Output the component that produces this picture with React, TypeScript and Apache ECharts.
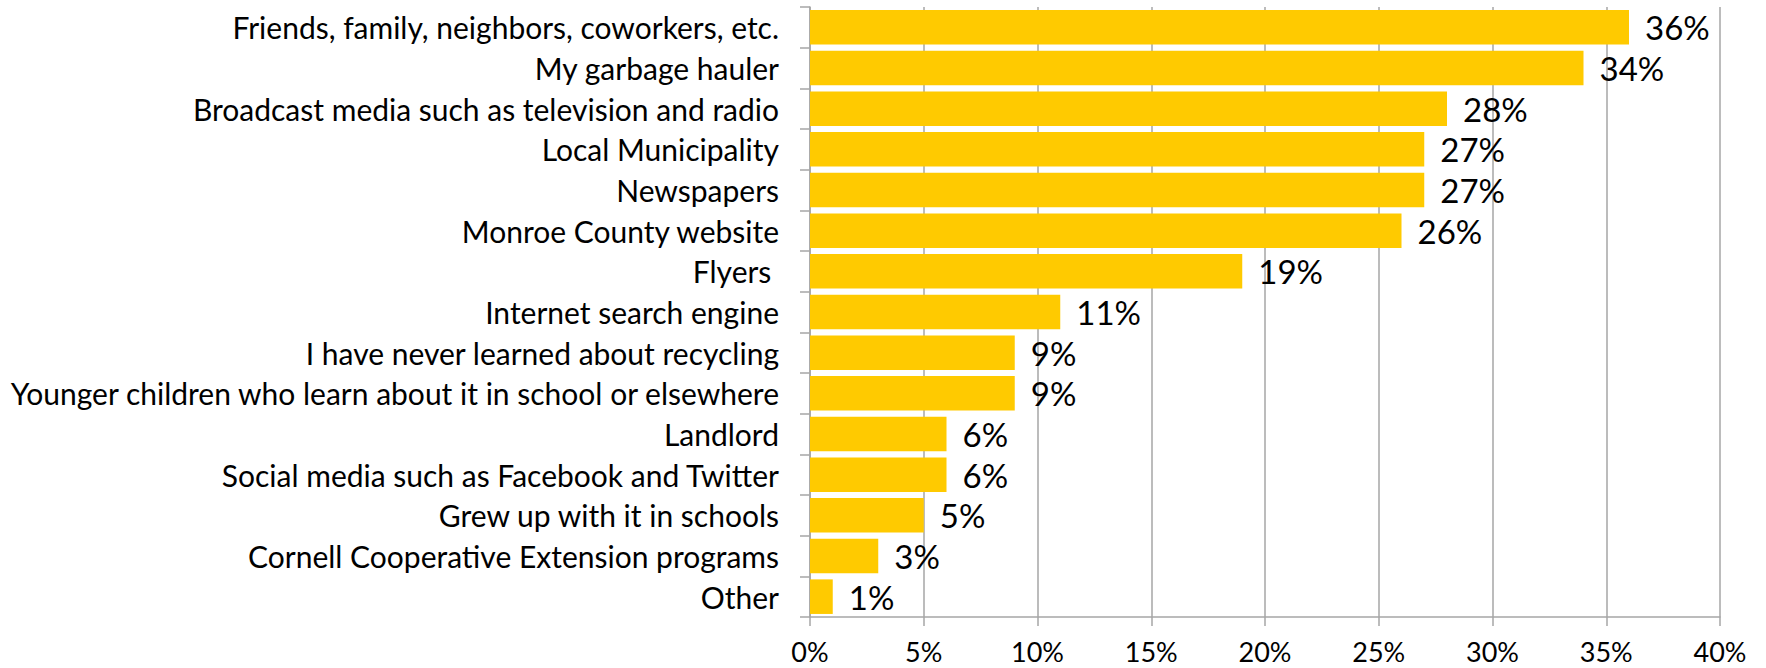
import React, { useEffect, useRef } from "react";
import * as echarts from "echarts";

const categories = [
  "Friends, family, neighbors, coworkers, etc.",
  "My garbage hauler",
  "Broadcast media such as television and radio",
  "Local Municipality",
  "Newspapers",
  "Monroe County website",
  "Flyers ",
  "Internet search engine",
  "I have never learned about recycling",
  "Younger children who learn about it in school or elsewhere",
  "Landlord",
  "Social media such as Facebook and Twitter",
  "Grew up with it in schools",
  "Cornell Cooperative Extension programs",
  "Other",
];

const values = [36, 34, 28, 27, 27, 26, 19, 11, 9, 9, 6, 6, 5, 3, 1];

const FONT = "Lato";

export default function App() {
  const ref = useRef<HTMLDivElement>(null);
  useEffect(() => {
    if (!ref.current) return;
    const chart = echarts.init(ref.current, null, { renderer: "svg" });
    chart.setOption({
      animation: false,
      backgroundColor: "#ffffff",
      grid: { left: 810, right: 46, top: 7, bottom: 51, containLabel: false },
      xAxis: {
        type: "value",
        min: 0,
        max: 40,
        interval: 5,
        axisLine: { show: true, lineStyle: { color: "#a6a6a6", width: 1.5 } },
        axisTick: { show: true, length: 9, lineStyle: { color: "#a6a6a6", width: 1.5 } },
        splitLine: { show: true, lineStyle: { color: "#a6a6a6", width: 1.5 } },
        axisLabel: {
          formatter: "{value}%",
          color: "#000",
          fontFamily: FONT,
          fontSize: 27,
          lineHeight: 28,
          margin: 20,
        },
      },
      yAxis: {
        type: "category",
        inverse: true,
        data: categories,
        axisLine: { show: true, lineStyle: { color: "#a6a6a6", width: 1.5 } },
        axisTick: { show: true, length: 10, lineStyle: { color: "#a6a6a6", width: 1.5 } },
        axisLabel: {
          color: "#000",
          fontFamily: FONT,
          fontSize: 30,
          margin: 31,
        },
      },
      series: [
        {
          type: "bar",
          data: values,
          barCategoryGap: "15%",
          itemStyle: { color: "#ffca00" },
          label: {
            show: true,
            position: "right",
            distance: 16,
            formatter: "{c}%",
            color: "#000",
            fontFamily: FONT,
            fontSize: 33,
          },
        },
      ],
    });
    return () => chart.dispose();
  }, []);
  return (
    <div
      ref={ref}
      style={{ position: "absolute", left: 0, top: 0, width: 1766, height: 668 }}
    />
  );
}
